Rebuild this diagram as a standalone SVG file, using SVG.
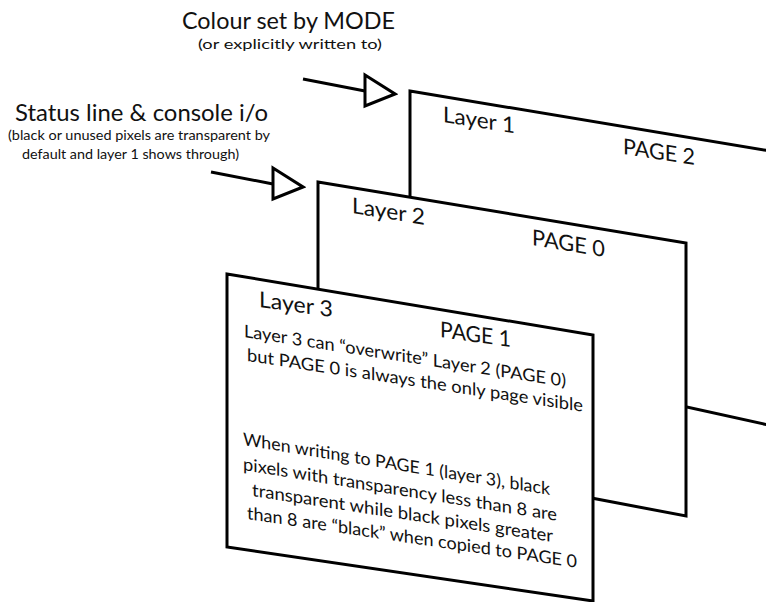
<svg xmlns="http://www.w3.org/2000/svg" width="766" height="602" viewBox="0 0 766 602">
<style>
.page{fill:#fff;stroke:#000;stroke-width:3;stroke-linejoin:miter}
.conn{fill:none;stroke:#000;stroke-width:3}
text{font-family:Lato,"Liberation Sans",sans-serif;fill:#111}
.title{font-size:24px}
.sub{font-size:14px}
.head{font-size:22px}
.body{font-size:17.5px}
</style>
<defs>
<marker id="tri" markerUnits="userSpaceOnUse" viewBox="-3 -19 36 38" markerWidth="36" markerHeight="38" refX="0" refY="0" orient="0">
<path d="M0,-16 L30,3 L0,15 Z" fill="#fff" stroke="#000" stroke-width="3"/>
</marker>
</defs>
<rect width="766" height="602" fill="#fff"/>
<g id="labels">
<text class="title" x="182" y="29" textLength="213" lengthAdjust="spacingAndGlyphs">Colour set by MODE</text>
<text class="sub" x="198" y="49" textLength="184" lengthAdjust="spacingAndGlyphs">(or explicitly written to)</text>
<text class="title" x="15" y="121" textLength="253" lengthAdjust="spacingAndGlyphs">Status line &amp; console i/o</text>
<text class="sub" x="8" y="140" textLength="262" lengthAdjust="spacingAndGlyphs">(black or unused pixels are transparent by</text>
<text class="sub" x="22" y="159" textLength="217" lengthAdjust="spacingAndGlyphs">default and layer 1 shows through)</text>
</g>
<g id="layer1">
<polygon class="page" points="410,91 800,156 800,432 410,346"/>
<text class="head" transform="translate(443,122) skewY(8.9)" textLength="72" lengthAdjust="spacingAndGlyphs">Layer 1</text>
<text class="head" transform="translate(623,154) skewY(8.7)" textLength="72" lengthAdjust="spacingAndGlyphs">PAGE 2</text>
</g>
<g id="layer2">
<polygon class="page" points="318,182 686,243 686,516 318,446"/>
<text class="head" transform="translate(352,213) skewY(9.3)" textLength="73" lengthAdjust="spacingAndGlyphs">Layer 2</text>
<text class="head" transform="translate(532,245) skewY(9.3)" textLength="73" lengthAdjust="spacingAndGlyphs">PAGE 0</text>
</g>
<g id="layer3">
<polygon class="page" points="227,274 593,335 593,601 227,547"/>
<text class="head" transform="translate(259,307) skewY(7.8)" textLength="74" lengthAdjust="spacingAndGlyphs">Layer 3</text>
<text class="head" transform="translate(440,337) skewY(8.1)" textLength="71" lengthAdjust="spacingAndGlyphs">PAGE 1</text>
<text class="body" transform="translate(244,337) skewY(8.8)" textLength="322" lengthAdjust="spacingAndGlyphs">Layer 3 can “overwrite” Layer 2 (PAGE 0)</text>
<text class="body" transform="translate(247,361) skewY(8.6)" textLength="336" lengthAdjust="spacingAndGlyphs">but PAGE 0 is always the only page visible</text>
<text class="body" transform="translate(243,445) skewY(9.25)" textLength="307" lengthAdjust="spacingAndGlyphs">When writing to PAGE 1 (layer 3), black</text>
<text class="body" transform="translate(243,470) skewY(9.2)" textLength="314" lengthAdjust="spacingAndGlyphs">pixels with transparency less than 8 are</text>
<text class="body" transform="translate(252,496) skewY(8.7)" textLength="301" lengthAdjust="spacingAndGlyphs">transparent while black pixels greater</text>
<text class="body" transform="translate(247,519) skewY(8.4)" textLength="330" lengthAdjust="spacingAndGlyphs">than 8 are “black” when copied to PAGE 0</text>
</g>
<g id="connectors">
<line class="conn" x1="303" y1="79" x2="365" y2="91" marker-end="url(#tri)"/>
<line class="conn" x1="211" y1="172" x2="273" y2="184" marker-end="url(#tri)"/>
</g>
</svg>
